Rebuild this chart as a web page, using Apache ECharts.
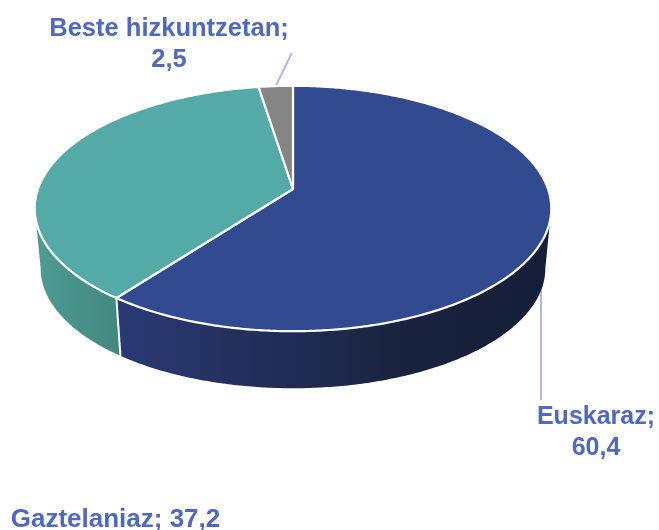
<!DOCTYPE html>
<html><head><meta charset="utf-8">
<style>html,body{margin:0;padding:0;background:#fff}#c{width:659px;height:530px}</style>
<script src="https://cdn.jsdelivr.net/npm/echarts@6/dist/echarts.min.js"></script>
</head><body><div id="c"></div>
<script>
const names = ['Euskaraz', 'Gaztelaniaz', 'Beste hizkuntzetan'];
const values = [60.4, 37.2, 2.5];
const topColors = ['#324a90', '#53aaa6', '#858585'];
const sideStops = [
  [[0, '#2b3a75'], [0.65, '#19233f'], [1, '#151e38']],
  [[0, '#4d9c94'], [1, '#43877f']],
  [[0, '#6a6a6a'], [1, '#6a6a6a']]
];
// label layout: text centre, separator, font size, leader end
const labelBoxes = [
  {x: 596, y: 433, sep: '\n', size: 25, leader: [[541, 285], [541, 400]]},
  {x: 115.5, y: 520, sep: ' ', size: 26, leader: null},
  {x: 169, y: 44, sep: '\n', size: 25.5, leader: [null, [291.7, 53.3]]}
];
const G = {cx: 293, cy: 189, k: -0.159, A: 119.6, B: 255,
           botScale: 0.977, botCy: 249.3};
const total = values.reduce((a, b) => a + b, 0);
const cum = values.reduce((acc, v) => { acc.push(acc[acc.length - 1] + v); return acc; }, [0]);
const toAngle = v => echarts.number.linearMap(v, [0, total], [0, 2 * Math.PI]);

function topPoint(a) {
  const x = Math.sin(a), y = -Math.cos(a), d = 1 + G.k * y;
  return [G.cx + G.B * x / d, G.cy + G.A * y / d];
}
function botPoint(a) {
  const p = topPoint(a);
  return [G.cx + (p[0] - G.cx) * G.botScale, G.botCy + (p[1] - G.cy) * G.botScale];
}
function arc(a0, a1, fn) {
  const n = Math.max(2, Math.ceil(Math.abs(a1 - a0) / 0.01));
  const pts = [];
  for (let i = 0; i <= n; i++) pts.push(fn(a0 + (a1 - a0) * i / n));
  return pts;
}
const silR = Math.PI / 2 + Math.asin(-G.k);
const silL = 2 * Math.PI - silR;

function renderSide(params, api) {
  const i = params.dataIndex;
  const a0 = Math.max(toAngle(cum[i]), silR), a1 = Math.min(toAngle(cum[i + 1]), silL);
  if (a1 <= a0) return {type: 'group', children: []};
  const pts = arc(a0, a1, topPoint).concat(arc(a1, a0, botPoint));
  const children = [{
    type: 'polygon', shape: {points: pts},
    style: {fill: new echarts.graphic.LinearGradient(0, 0, 1, 0,
      sideStops[i].map(s => ({offset: s[0], color: s[1]})))}
  }];
  if (toAngle(cum[i + 1]) < silL) {
    const e = toAngle(cum[i + 1]);
    children.push({type: 'line', z2: 5,
      shape: {x1: topPoint(e)[0], y1: topPoint(e)[1], x2: botPoint(e)[0], y2: botPoint(e)[1]},
      style: {stroke: '#fff', lineWidth: 2}});
  }
  return {type: 'group', children};
}
function renderTop(params, api) {
  const i = params.dataIndex;
  const pts = [[G.cx, G.cy]].concat(arc(toAngle(cum[i]), toAngle(cum[i + 1]), topPoint));
  return {type: 'polygon', shape: {points: pts},
    style: {fill: topColors[i], stroke: '#fff', lineWidth: 2.2, lineJoin: 'round'}};
}
function renderLabel(params, api) {
  const i = params.dataIndex, L = labelBoxes[i];
  const children = [];
  if (L.leader) {
    const mid = toAngle((cum[i] + cum[i + 1]) / 2);
    const start = L.leader[0] || topPoint(mid);
    const end = L.leader[1];
    children.push({type: 'line',
      shape: {x1: start[0], y1: start[1], x2: end[0], y2: end[1]},
      style: {stroke: '#aeb9e5', lineWidth: 2}});
  }
  children.push({type: 'text', x: L.x, y: L.y,
    style: {text: names[i] + ';' + L.sep + String(values[i]).replace('.', ','),
      fill: '#4f68c0', font: 'bold ' + L.size + 'px "Liberation Sans"', lineHeight: 31,
      align: 'center', verticalAlign: 'middle'}});
  return {type: 'group', children};
}
const chart = echarts.init(document.getElementById('c'), null, {renderer: 'canvas'});
chart.setOption({
  animation: false,
  backgroundColor: '#fff',
  series: [
    {type: 'custom', coordinateSystem: 'none', data: values, renderItem: renderLabel, z: 1, silent: true},
    {type: 'custom', coordinateSystem: 'none', data: values, renderItem: renderSide, z: 2, silent: true},
    {type: 'custom', coordinateSystem: 'none', data: values, renderItem: renderTop, z: 4, silent: true}
  ]
});
</script></body></html>
